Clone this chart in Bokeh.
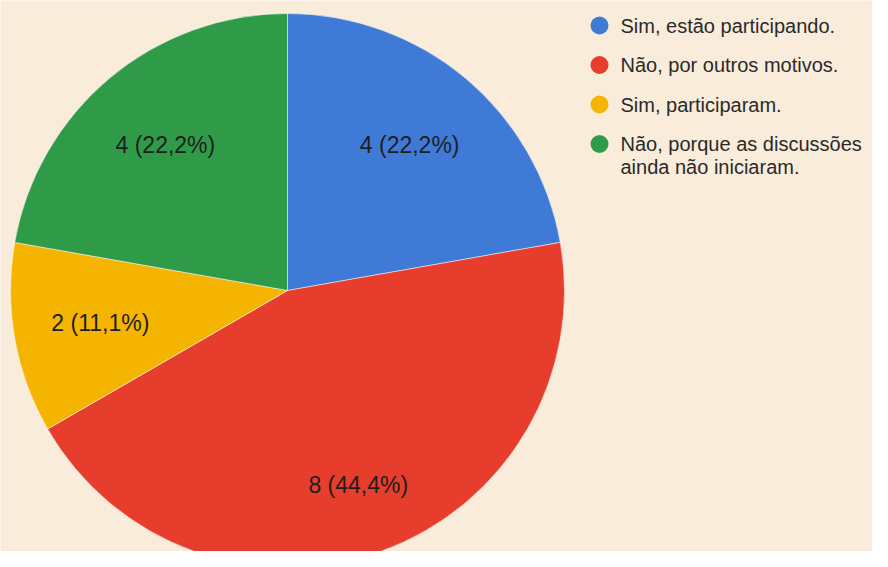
import math
from bokeh.plotting import figure
from bokeh.models import Range1d, ColumnDataSource
from bokeh.core.properties import value
from bokeh.embed import file_html
from bokeh.resources import INLINE

# ---- data ----
categories = ["Sim, estão participando.", "Não, por outros motivos.",
              "Sim, participaram.", "Não, porque as discussões\nainda não iniciaram."]
counts = [4, 8, 2, 4]
colors = ["#3F7BD6", "#E63D2C", "#F5B400", "#2F9B48"]

# ---- layout (pixel coordinates of the 888x567 picture) ----
W, H = 872, 551
PAGE_H = 567
def Y(py):
    return PAGE_H - py

cx, cy, R = 287, 290, 277
label_frac = [0.686, 0.747, 0.686, 0.686]

p = figure(width=W, height=H, output_backend="svg", toolbar_location=None,
           x_range=Range1d(0, W), y_range=Range1d(PAGE_H - H, PAGE_H),
           x_axis_type=None, y_axis_type=None, min_border=0)
p.grid.visible = False
p.outline_line_color = None
p.background_fill_color = "#F9ECDA"
p.border_fill_color = "#F9ECDA"

total = sum(counts)
starts, ends, lx, ly, ltxt = [], [], [], [], []
cum = 0.0
for i, c in enumerate(counts):
    a0 = cum / total * 2 * math.pi
    cum += c
    a1 = cum / total * 2 * math.pi
    # clockwise from 12 o'clock
    starts.append(math.pi / 2 - a0)
    ends.append(math.pi / 2 - a1)
    mid = (a0 + a1) / 2
    r = R * label_frac[i]
    lx.append(cx + r * math.sin(mid))
    ly.append(Y(cy - r * math.cos(mid)))
    pct = f"{c / total * 100:.1f}".replace(".", ",")
    ltxt.append(f"{c} ({pct}%)")

src = ColumnDataSource(dict(start=starts, end=ends, color=colors))
p.wedge(x=cx, y=Y(cy), radius=R, start_angle="start", end_angle="end",
        direction="clock", fill_color="color", line_color="white",
        line_alpha=0.5, line_width=1, source=src)

p.text(x=lx, y=ly, text=ltxt, text_font=value("Liberation Sans"),
       text_font_size="23px", text_color="#1E1E1E",
       text_align="center", text_baseline="middle")

# ---- legend ----
dot_x, txt_x, row0, row_gap, line_gap = 599, 620, 25, 39.5, 23
dx, dy, dc, tx, ty, tt = [], [], [], [], [], []
for i, (lab, col) in enumerate(zip(categories, colors)):
    yy = row0 + i * row_gap
    dx.append(dot_x); dy.append(Y(yy)); dc.append(col)
    for j, line in enumerate(lab.split("\n")):
        tx.append(txt_x); ty.append(Y(yy + j * line_gap)); tt.append(line)

p.scatter(x=dx, y=dy, marker="circle", size=18, fill_color=dc, line_color=None)
p.text(x=tx, y=ty, text=tt, text_font=value("Liberation Sans"),
       text_font_size="20px", text_color="#2A2A2A",
       text_align="left", text_baseline="middle")

open("out.html", "w").write(file_html(p, INLINE))
